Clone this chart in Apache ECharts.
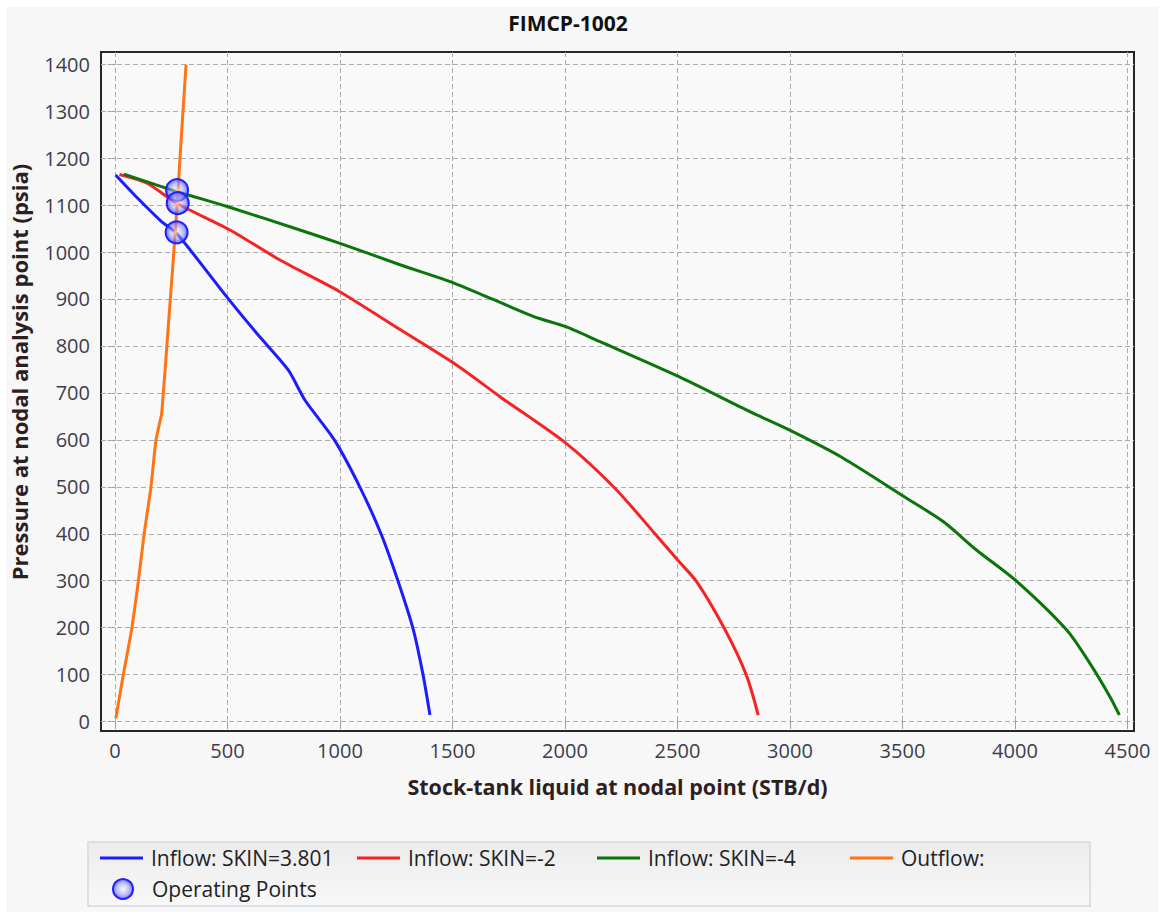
<!DOCTYPE html>
<html><head><meta charset="utf-8">
<script src="https://cdn.jsdelivr.net/npm/echarts@6/dist/echarts.min.js"></script>
<style>html,body{margin:0;padding:0;background:#fff}#c{width:1164px;height:918px}</style>
</head><body><div id="c"></div>
<script>
// ---- data (x: STB/d, y: psia) ----
const chartTitle = 'FIMCP-1002';
const xName = 'Stock-tank liquid at nodal point (STB/d)';
const yName = 'Pressure at nodal analysis point (psia)';
const xTicks = [0, 500, 1000, 1500, 2000, 2500, 3000, 3500, 4000, 4500];
const yTicks = [0, 100, 200, 300, 400, 500, 600, 700, 800, 900, 1000, 1100, 1200, 1300, 1400];
const seriesNames = ['Inflow: SKIN=3.801', 'Inflow: SKIN=-2', 'Inflow: SKIN=-4', 'Outflow:', 'Operating Points'];

const inflowSkin3801 = [[3,1164],[100,1115],[207,1065],[274,1040],[496,905],[630,827],[770,749],[844,685],[975,600],[1089,499],[1185,397],[1259,298],[1326,196],[1370,98],[1400,14]];
const inflowSkinM2 = [[20,1165],[141,1147],[274,1104],[511,1047],[733,983],[997,916],[1267,835],[1507,763],[1711,692],[2004,593],[2222,497],[2393,404],[2501,344],[2585,298],[2711,196],[2807,98],[2859,14]];
const inflowSkinM4 = [[40,1166],[274,1129],[499,1097],[822,1047],[997,1019],[1267,973],[1507,934],[1859,863],[2004,841],[2156,809],[2504,735],[2822,660],[3010,618],[3237,561],[3508,479],[3681,426],[3830,365],[4007,299],[4230,195],[4333,124],[4422,53],[4464,14]];
const outflow = [[4,7],[37,99],[74,196],[104,299],[129,397],[160,500],[182,598],[200,639],[208,657],[237,841],[259,983],[277,1104],[289,1200],[316,1399]];
const operatingPoints = [[276,1132],[279,1104],[274,1042]];

const colors = ['#1c1cff', '#f52323', '#0b740b', '#ff7415'];

const FONT = 'Open Sans';
const chart = echarts.init(document.getElementById('c'), null, {renderer: 'svg'});

const lineSeries = [inflowSkin3801, inflowSkinM2, inflowSkinM4, outflow].map((d, i) => ({
  name: seriesNames[i], type: 'line', data: d, symbol: 'none', smooth: 0.25,
  lineStyle: {color: colors[i], width: 3}, itemStyle: {color: colors[i]}, z: 3, animation: false
}));

const opColor = {type: 'radial', x: 0.5, y: 0.5, r: 0.5, colorStops: [
  {offset: 0, color: 'rgba(255,255,255,0.55)'},
  {offset: 0.6, color: 'rgba(150,150,255,0.55)'},
  {offset: 1, color: 'rgba(60,60,255,0.75)'}]};

const legendText = {fontFamily: FONT, fontSize: 21, color: '#222', lineHeight: 24};
const legendLefts = [100, 357, 597, 850];
const lineLegends = legendLefts.map((l, i) => ({
  padding: 0, left: l, top: 846, icon: 'rect', itemWidth: 43, itemHeight: 3, selectedMode: false,
  textStyle: Object.assign({padding: [0, 0, 0, 3]}, legendText), data: [seriesNames[i]]
}));
const opLegend = {padding: 0, left: 112, top: 877, itemWidth: 20, itemHeight: 20, selectedMode: false,
  textStyle: Object.assign({padding: [0, 0, 0, 14]}, legendText), data: [seriesNames[4]]};

const plainNum = v => String(v);

chart.setOption({
  animation: false,
  backgroundColor: '#ffffff',
  graphic: [
    {type: 'rect', shape: {x: 6, y: 7, width: 1152, height: 905}, style: {fill: '#f7f7f7'}, z: -10, silent: true},
    {type: 'rect', shape: {x: 88, y: 842, width: 1002, height: 64},
     style: {fill: {type: 'linear', x: 0, y: 0, x2: 0, y2: 1, colorStops: [{offset: 0, color: '#ececec'}, {offset: 1, color: '#f8f8f8'}]}, stroke: '#d3d8e2', lineWidth: 1.5}, z: -5, silent: true},
    {type: 'text', x: 19, y: 372, rotation: Math.PI / 2, style: {text: yName, fontFamily: FONT, fontSize: 22, fontWeight: 'bold', fill: '#2d1f1f', align: 'center', verticalAlign: 'middle'}, silent: true}
  ],
  title: {text: chartTitle, left: 568, top: 12, textAlign: 'center', padding: 0,
    textStyle: {fontFamily: FONT, fontSize: 21, fontWeight: 'bold', color: '#111'}},
  legend: lineLegends.concat([opLegend]),
  grid: {left: 101, top: 52, width: 1033, height: 679, show: true, borderColor: '#262626', borderWidth: 2, backgroundColor: '#f9f9f9'},
  xAxis: {type: 'value', min: -62, max: 4529,
    name: xName, nameLocation: 'middle', nameGap: 44,
    nameTextStyle: {fontFamily: FONT, fontSize: 21.5, fontWeight: 'bold', color: '#2d1f1f'},
    axisLine: {show: false},
    axisTick: {show: true, customValues: xTicks, length: 7, lineStyle: {color: '#9a9a9a', type: [3, 2]}},
    axisLabel: {customValues: xTicks, formatter: plainNum, margin: 9, fontFamily: FONT, fontSize: 20, color: '#3d3d4d'},
    splitLine: {show: true, lineStyle: {color: '#acacac', type: [5, 3], width: 1}}},
  yAxis: {type: 'value', min: -20, max: 1426,
    axisLine: {show: false},
    axisTick: {show: true, customValues: yTicks, length: 7, lineStyle: {color: '#9a9a9a', type: [3, 2]}},
    axisLabel: {customValues: yTicks, formatter: plainNum, margin: 11, fontFamily: FONT, fontSize: 20, color: '#3d3d4d'},
    splitLine: {show: true, lineStyle: {color: '#acacac', type: [5, 3], width: 1}}},
  series: lineSeries.concat([{
    name: seriesNames[4], type: 'scatter', data: operatingPoints, symbol: 'circle', symbolSize: 22, symbolKeepAspect: true,
    itemStyle: {color: opColor, borderColor: '#2020ff', borderWidth: 2, opacity: 1}, z: 5, animation: false
  }])
});
</script></body></html>
